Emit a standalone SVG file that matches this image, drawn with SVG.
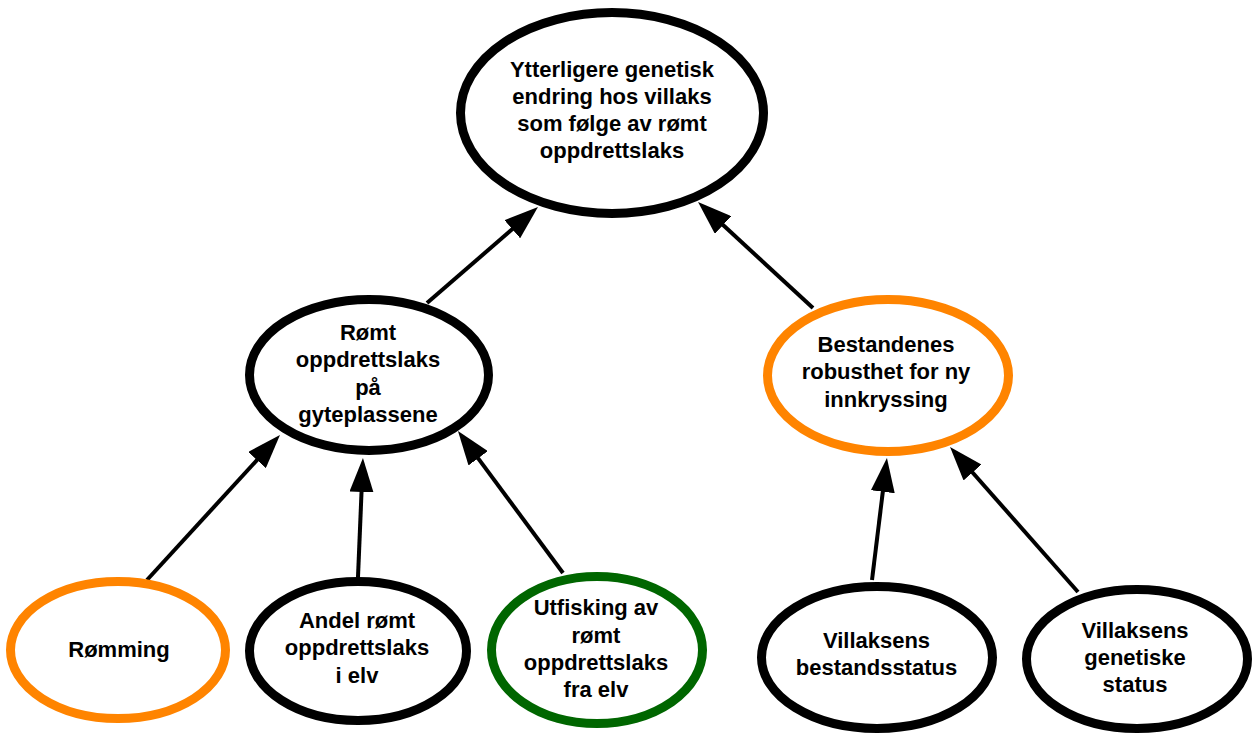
<svg xmlns="http://www.w3.org/2000/svg" width="1254" height="736" viewBox="0 0 1254 736">
<style>
.node { fill: #ffffff; stroke-width: 9; }
.k { stroke: #000000; }
.o { stroke: #ff8400; }
.g { stroke: #006600; }
.lbl { font-family: "Liberation Sans", Arial, sans-serif; font-weight: bold; font-size: 22px; fill: #000000; text-anchor: middle; }
.edge { stroke: #000000; stroke-width: 4; fill: none; marker-end: url(#arrow); }
</style>
<defs>
<marker id="arrow" markerUnits="userSpaceOnUse" markerWidth="34" markerHeight="24" viewBox="0 0 34 24" refX="4" refY="12" orient="auto">
<path d="M0,0 L34,12 L0,24 Z" fill="#000000"/>
</marker>
</defs>
<rect width="1254" height="736" fill="#ffffff"/>
<g id="connectors">
<line class="edge" x1="427" y1="303" x2="515.3" y2="226.6"/>
<line class="edge" x1="813" y1="308" x2="720.1" y2="222.3"/>
<line class="edge" x1="147" y1="580" x2="259.7" y2="457.1"/>
<line class="edge" x1="358" y1="577" x2="361.7" y2="488"/>
<line class="edge" x1="563" y1="573" x2="475.8" y2="455.1"/>
<line class="edge" x1="872" y1="580" x2="883.3" y2="487.8"/>
<line class="edge" x1="1078" y1="592" x2="969.9" y2="469.5"/>
</g>
<g id="node-top">
<ellipse class="node k" cx="612" cy="113" rx="151.5" ry="100.5"/>
<text class="lbl" x="612" y="77">Ytterligere genetisk</text>
<text class="lbl" x="612" y="104">endring hos villaks</text>
<text class="lbl" x="612" y="131">som følge av rømt</text>
<text class="lbl" x="612" y="158">oppdrettslaks</text>
</g>
<g id="node-gyteplassene">
<ellipse class="node k" cx="369" cy="375" rx="119.5" ry="75.5"/>
<text class="lbl" x="368" y="340">Rømt</text>
<text class="lbl" x="368" y="367">oppdrettslaks</text>
<text class="lbl" x="368" y="395">på</text>
<text class="lbl" x="368" y="422">gyteplassene</text>
</g>
<g id="node-robusthet">
<ellipse class="node o" cx="888" cy="375.5" rx="120.5" ry="76"/>
<text class="lbl" x="886" y="352">Bestandenes</text>
<text class="lbl" x="886" y="379">robusthet for ny</text>
<text class="lbl" x="886" y="407">innkryssing</text>
</g>
<g id="node-romming">
<ellipse class="node o" cx="118" cy="650" rx="107.5" ry="68.5"/>
<text class="lbl" x="119" y="657">Rømming</text>
</g>
<g id="node-andel">
<ellipse class="node k" cx="358" cy="651" rx="108.5" ry="69.5"/>
<text class="lbl" x="357" y="628">Andel rømt</text>
<text class="lbl" x="357" y="655">oppdrettslaks</text>
<text class="lbl" x="357" y="683">i elv</text>
</g>
<g id="node-utfisking">
<ellipse class="node g" cx="597" cy="650" rx="105.5" ry="73.5"/>
<text class="lbl" x="596" y="615">Utfisking av</text>
<text class="lbl" x="596" y="643">rømt</text>
<text class="lbl" x="596" y="670">oppdrettslaks</text>
<text class="lbl" x="596" y="697">fra elv</text>
</g>
<g id="node-bestandsstatus">
<ellipse class="node k" cx="877" cy="657.5" rx="115.5" ry="71"/>
<text class="lbl" x="876.5" y="648">Villaksens</text>
<text class="lbl" x="876.5" y="675">bestandsstatus</text>
</g>
<g id="node-genetiske">
<ellipse class="node k" cx="1137" cy="659" rx="110.5" ry="69.5"/>
<text class="lbl" x="1135" y="638">Villaksens</text>
<text class="lbl" x="1135" y="665">genetiske</text>
<text class="lbl" x="1135" y="692">status</text>
</g>
</svg>
